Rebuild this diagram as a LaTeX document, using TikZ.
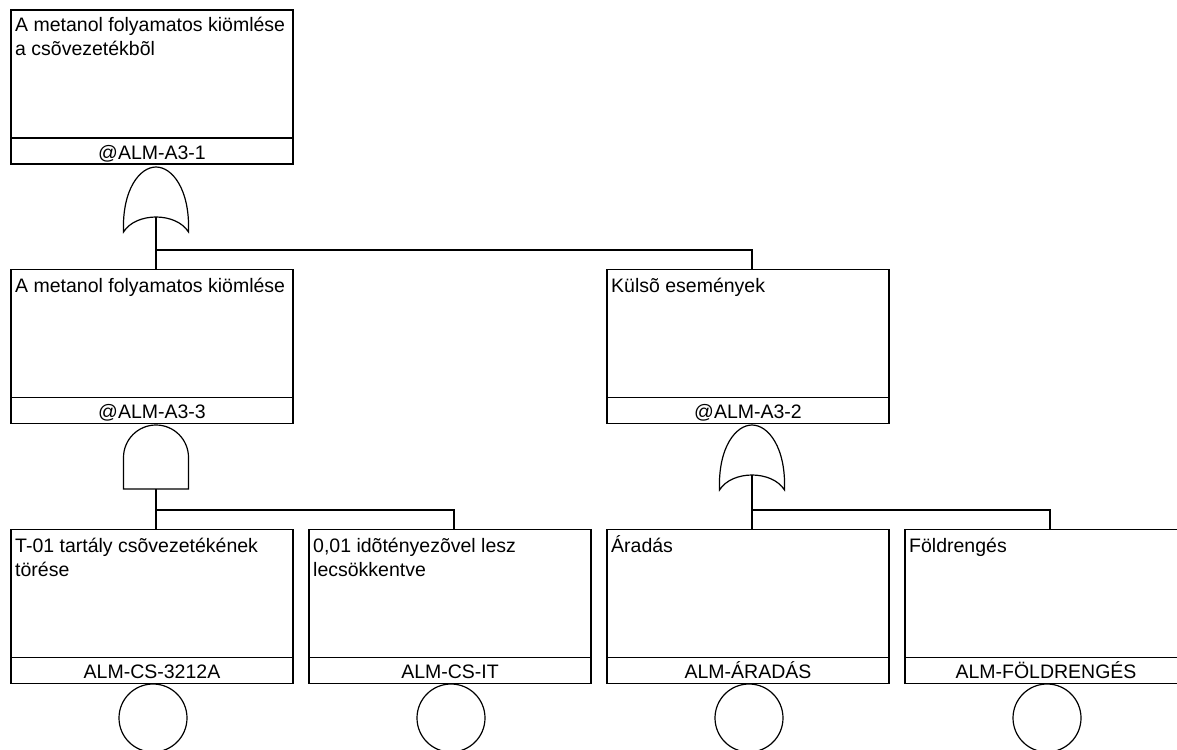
\documentclass[tikz,border=0pt]{standalone}
\usepackage{fontspec}
\setmainfont{Liberation Sans}
\begin{document}
\begin{tikzpicture}[x=1pt,y=-1pt,
  lw/.style={line width=1.2pt},
  evbox/.style={draw,lw,minimum width=282pt,minimum height=154pt,inner sep=0pt,outer sep=0pt},
  desc/.style={anchor=base west,inner sep=0pt,font=\fontsize{19.5}{24}\selectfont},
  codetxt/.style={anchor=base,inner sep=0pt,font=\fontsize{19.5}{24}\selectfont},
  basic/.style={draw,lw,circle,minimum size=68pt,inner sep=0pt},
  conn/.style={lw},
  orgate/.pic={
    \draw[lw] (-32.5,65) .. controls (-34,22) and (-16,0) .. (0,0)
      .. controls (16,0) and (34,22) .. (32.5,65)
      .. controls (20,45) and (-20,45) .. cycle;
    \coordinate (-out) at (0,50);
  },
  andgate/.pic={
    \draw[lw] (-32.5,64) -- (-32.5,32.5) arc[start angle=180,end angle=0,radius=32.5pt]
      -- (32.5,64) -- cycle;
    \coordinate (-out) at (0,64);
  }
]
\clip (0,0) rectangle (1177,749);

% event boxes
\node[evbox] (T)  at (152,87) {};
\node[evbox] (M1) at (152,346.5) {};
\node[evbox] (M2) at (748,346.5) {};
\node[evbox] (B1) at (152,606.5) {};
\node[evbox] (B2) at (450,606.5) {};
\node[evbox] (B3) at (748,606.5) {};
\node[evbox] (B4) at (1046,606.5) {};

\foreach \b in {T,M1,M2,B1,B2,B3,B4}{
  \draw[lw] ([yshift=26pt]\b.south west) -- ([yshift=26pt]\b.south east);
}

% descriptions
\node[desc] (Tt1) at (15,32) {A metanol folyamatos kiömlése};
\node[desc] (Tt2) at (15,56) {a csõvezetékbõl};
\node[codetxt] (Tc) at (152,159) {@ALM-A3-1};

\node[desc] (M1t) at (15,292) {A metanol folyamatos kiömlése};
\node[codetxt] (M1c) at (152,418) {@ALM-A3-3};

\node[desc] (M2t) at (611,292) {Külsõ események};
\node[codetxt] (M2c) at (748,418) {@ALM-A3-2};

\node[desc] (B1t1) at (15,552) {T-01 tartály csõvezetékének};
\node[desc] (B1t2) at (15,576) {törése};
\node[codetxt] (B1c) at (152,678) {ALM-CS-3212A};

\node[desc] (B2t1) at (313,552) {0,01 idõtényezõvel lesz};
\node[desc] (B2t2) at (313,576) {lecsökkentve};
\node[codetxt] (B2c) at (450,678) {ALM-CS-IT};

\node[desc] (B3t) at (611,552) {Áradás};
\node[codetxt] (B3c) at (748,678) {ALM-ÁRADÁS};

\node[desc] (B4t) at (909,552) {Földrengés};
\node[codetxt] (B4c) at (1046,678) {ALM-FÖLDRENGÉS};

% basic event circles
\node[basic] (C1) at (153,718) {};
\node[basic] (C2) at (451,718) {};
\node[basic] (C3) at (749,718) {};
\node[basic] (C4) at (1047,718) {};

% gates
\pic (G1) at (156,167) {orgate};
\pic (G2) at (156,425) {andgate};
\pic (G3) at (752,425) {orgate};

% connectors
\coordinate (J1) at (156,250);
\coordinate (J2) at (156,510);
\coordinate (J3) at (752,510);
\draw[conn] (G1-out) -- (G1-out |- M1.north);
\draw[conn] (J1) -| ([xshift=4pt]M2.north);
\draw[conn] (G2-out) -- (G2-out |- B1.north);
\draw[conn] (J2) -| ([xshift=4pt]B2.north);
\draw[conn] (G3-out) -- (G3-out |- B3.north);
\draw[conn] (J3) -| ([xshift=4pt]B4.north);
\end{tikzpicture}
\end{document}
